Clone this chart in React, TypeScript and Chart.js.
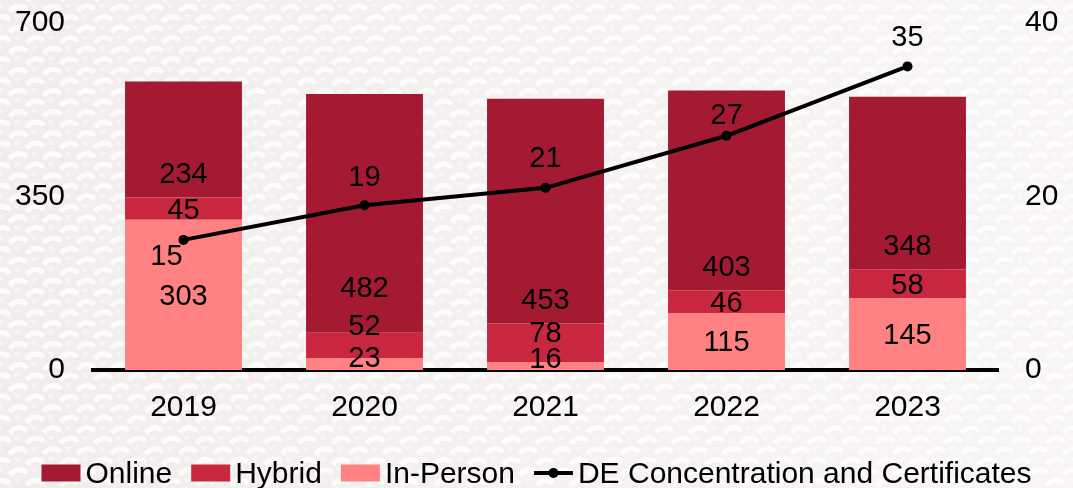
import React, { useEffect, useRef } from 'react';
import { Chart, registerables } from 'chart.js';

Chart.register(...registerables);

// ---- Data ----
const years = ['2019', '2020', '2021', '2022', '2023'];
const online = [234, 482, 453, 403, 348];
const hybrid = [45, 52, 78, 46, 58];
const inPerson = [303, 23, 16, 115, 145];
const deCertificates = [15, 19, 21, 27, 35];
const leftAxisStep = 350;
const leftAxisMax = 700;
const rightAxisStep = 20;
const rightAxisMax = 40;

// ---- Style ----
const FONT = '"Liberation Sans", Arial, Helvetica, sans-serif';
const COLORS = {
  online: '#A41A33',
  hybrid: '#C9263F',
  inPerson: '#FF8181',
  line: '#000000',
};
const W = 1073;
const H = 488;

// label nudges (pixels) to avoid overlaps, as in the reference
const barLabelShift: Record<string, number[]> = {
  Online: [0, -22, 0, 0, 0],
  Hybrid: [0, -21, -11, 0, 0],
  'In-Person': [0, -7, -8, 0, 0],
};
const lineLabelShift = [
  [-17, 15],
  [0, -29],
  [0, -31],
  [0, -22],
  [0, -30],
];

const backgroundPlugin = {
  id: 'bgFill',
  beforeDraw(chart: any) {
    const { ctx, width, height } = chart;
    ctx.save();
    ctx.fillStyle = '#f7f4f3';
    ctx.fillRect(0, 0, width, height);
    // faint wave-scale pattern
    const r = 17;
    const rowStep = r * 0.62;
    let row = 0;
    for (let y = -r; y < height + r; y += rowStep, row++) {
      const off = row % 2 ? r : 0;
      for (let x = -2 * r + off; x < width + 2 * r; x += 2 * r) {
        ctx.beginPath();
        ctx.arc(x, y, r, Math.PI, 2 * Math.PI);
        ctx.closePath();
        ctx.fillStyle = '#f2edec';
        ctx.fill();
        ctx.beginPath();
        ctx.arc(x + 2, y + 2, r * 0.62, Math.PI * 1.05, Math.PI * 1.7);
        ctx.strokeStyle = '#fcfbfb';
        ctx.lineWidth = r * 0.3;
        ctx.lineCap = 'round';
        ctx.stroke();
      }
    }
    const g = ctx.createLinearGradient(0, 0, width, 0);
    g.addColorStop(0, 'rgba(255,255,255,0)');
    g.addColorStop(1, 'rgba(255,255,255,0.45)');
    ctx.fillStyle = g;
    ctx.fillRect(0, 0, width, height);
    ctx.restore();
  },
};

const valueLabelsPlugin = {
  id: 'valueLabels',
  afterDatasetsDraw(chart: any) {
    const ctx = chart.ctx;
    ctx.save();
    ctx.font = `29px ${FONT}`;
    ctx.fillStyle = '#000';
    ctx.textAlign = 'center';
    ctx.textBaseline = 'alphabetic';
    chart.data.datasets.forEach((ds: any, di: number) => {
      const meta = chart.getDatasetMeta(di);
      meta.data.forEach((el: any, i: number) => {
        const v = ds.data[i];
        let x = el.x;
        let cy: number;
        if (ds.type === 'line') {
          x += lineLabelShift[i][0];
          cy = el.y + lineLabelShift[i][1];
        } else if (ds.label === 'Online') {
          cy = el.base - 24 + barLabelShift[ds.label][i];
        } else {
          cy = (el.y + el.base) / 2 + barLabelShift[ds.label][i];
        }
        ctx.fillText(String(v), x, cy + 10);
      });
    });
    ctx.restore();
  },
};

const legendPlugin = {
  id: 'customLegend',
  afterDraw(chart: any) {
    const ctx = chart.ctx;
    const order = ['Online', 'Hybrid', 'In-Person', 'DE Concentration and Certificates'];
    const boxW = 39;
    const boxH = 17;
    const gapText = 5;
    const gapItem = 19;
    const cy = 473;
    ctx.save();
    ctx.font = `30px ${FONT}`;
    const items = order.map((name) => {
      const ds = chart.data.datasets.find((d: any) => d.label === name);
      return { name, ds, tw: ctx.measureText(name).width };
    });
    const total =
      items.reduce((s, it) => s + boxW + gapText + it.tw, 0) + gapItem * (items.length - 1);
    let x = (chart.width - total) / 2;
    items.forEach((it) => {
      if (it.ds.type === 'line') {
        ctx.strokeStyle = it.ds.borderColor;
        ctx.lineWidth = 4;
        ctx.beginPath();
        ctx.moveTo(x, cy);
        ctx.lineTo(x + boxW, cy);
        ctx.stroke();
        ctx.fillStyle = it.ds.borderColor;
        ctx.beginPath();
        ctx.arc(x + boxW / 2, cy, 5, 0, Math.PI * 2);
        ctx.fill();
      } else {
        ctx.fillStyle = it.ds.backgroundColor;
        ctx.fillRect(x, cy - boxH / 2, boxW, boxH);
      }
      x += boxW + gapText;
      ctx.fillStyle = '#000';
      ctx.textAlign = 'left';
      ctx.textBaseline = 'alphabetic';
      ctx.fillText(it.name, x, 483);
      x += it.tw + gapItem;
    });
    ctx.restore();
  },
};

export default function App() {
  const canvasRef = useRef<HTMLCanvasElement | null>(null);

  useEffect(() => {
    if (!canvasRef.current) return;
    const tickFont = { family: FONT, size: 30 };
    const fitY = (width: number) => (s: any) => {
      s.width = width;
      s.paddingTop = 0;
      s.paddingBottom = 0;
    };
    const chart = new Chart(canvasRef.current, {
      type: 'bar',
      data: {
        labels: years,
        datasets: [
          {
            type: 'line',
            label: 'DE Concentration and Certificates',
            data: deCertificates,
            yAxisID: 'y2',
            borderColor: COLORS.line,
            backgroundColor: COLORS.line,
            borderWidth: 4,
            pointRadius: 5,
            pointBackgroundColor: COLORS.line,
            pointBorderWidth: 0,
            tension: 0,
            order: 0,
          } as any,
          {
            type: 'bar',
            label: 'In-Person',
            data: inPerson,
            backgroundColor: COLORS.inPerson,
            stack: 's',
            order: 1,
          },
          {
            type: 'bar',
            label: 'Hybrid',
            data: hybrid,
            backgroundColor: COLORS.hybrid,
            stack: 's',
            order: 1,
          },
          {
            type: 'bar',
            label: 'Online',
            data: online,
            backgroundColor: COLORS.online,
            stack: 's',
            order: 1,
          },
        ],
      },
      options: {
        animation: false,
        responsive: false,
        devicePixelRatio: 1,
        layout: { autoPadding: false, padding: { top: 23, bottom: 0, left: 0, right: 0 } },
        datasets: {
          bar: { categoryPercentage: 1, barPercentage: 0.646 },
        },
        plugins: {
          legend: { display: false },
          tooltip: { enabled: false },
        },
        scales: {
          x: {
            stacked: true,
            grid: { display: false, drawTicks: false },
            border: { display: true, color: '#000', width: 4 },
            ticks: { font: tickFont, color: '#000', padding: 20 },
            afterFit: (s: any) => {
              s.height = 118;
              s.paddingLeft = 0;
              s.paddingRight = 0;
            },
          },
          y: {
            stacked: true,
            position: 'left',
            min: 0,
            max: leftAxisMax,
            grid: { display: false, drawTicks: false },
            border: { display: false },
            ticks: { stepSize: leftAxisStep, font: tickFont, color: '#000', padding: 28 },
            afterFit: fitY(93),
          },
          y2: {
            position: 'right',
            min: 0,
            max: rightAxisMax,
            grid: { display: false, drawTicks: false },
            border: { display: false },
            ticks: { stepSize: rightAxisStep, font: tickFont, color: '#000', padding: 27 },
            afterFit: fitY(75),
          },
        },
      } as any,
      plugins: [backgroundPlugin, valueLabelsPlugin, legendPlugin],
    });
    return () => chart.destroy();
  }, []);

  return (
    <div style={{ position: 'fixed', left: 0, top: 0, width: W, height: H }}>
      <canvas ref={canvasRef} width={W} height={H} style={{ display: 'block', width: W, height: H }} />
    </div>
  );
}
